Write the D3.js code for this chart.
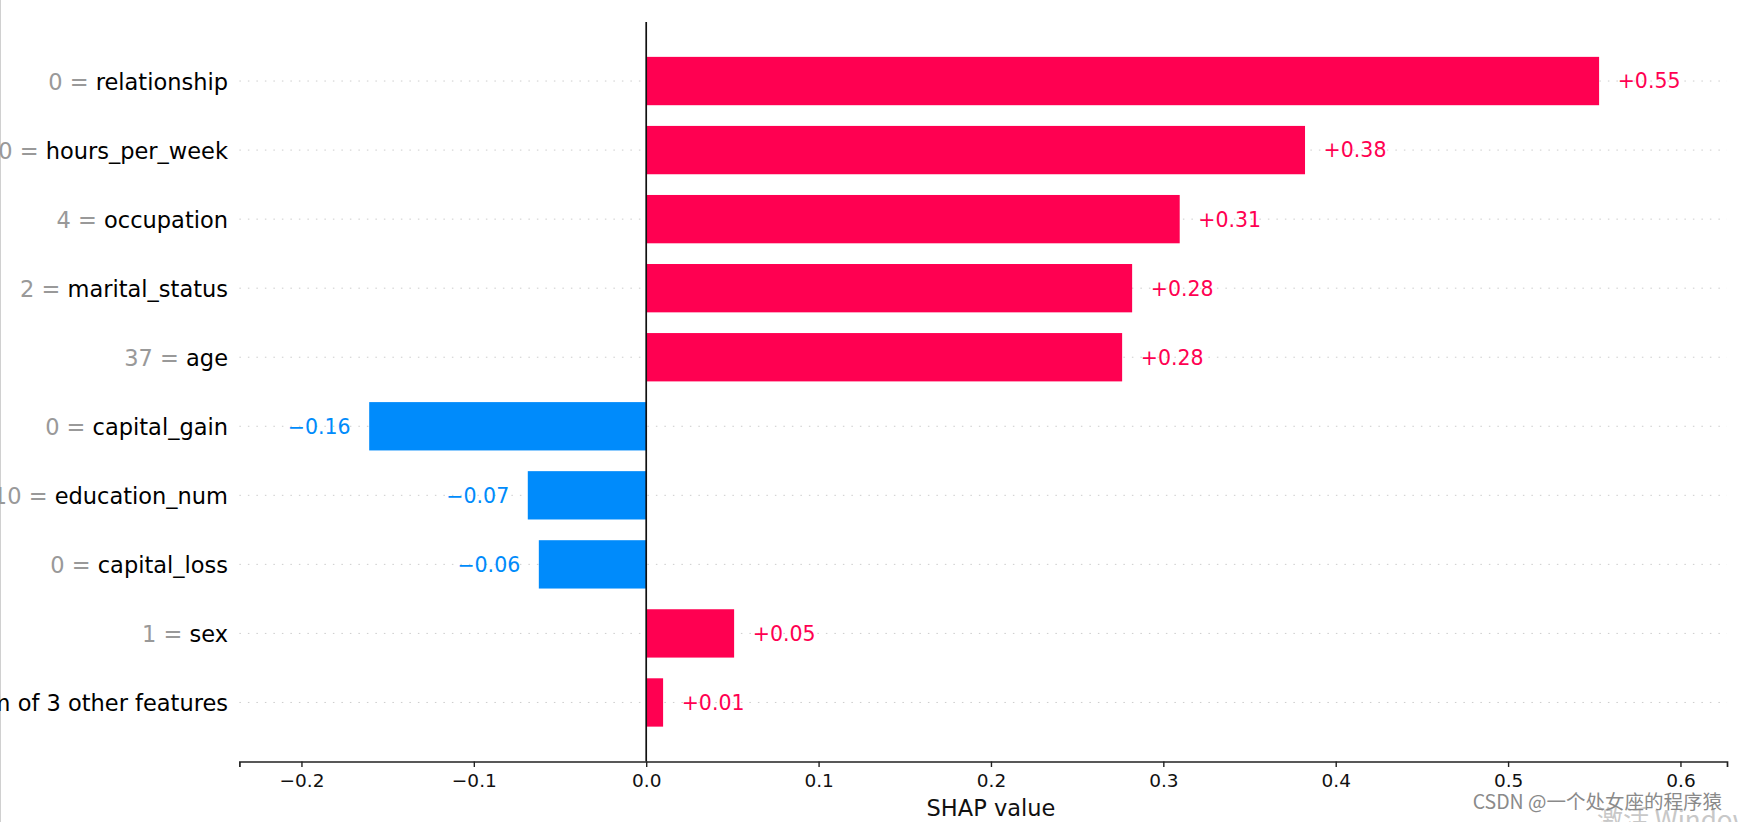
<!DOCTYPE html>
<html><head><meta charset="utf-8">
<script src="https://cdn.jsdelivr.net/npm/d3@7"></script>
<style>html,body{margin:0;padding:0;background:#fff;overflow:hidden}svg{display:block}</style>
</head><body>
<svg id="chart" width="1738" height="822"></svg>
<script>
const featureNames = ["relationship","hours_per_week","occupation","marital_status","age","capital_gain","education_num","capital_loss","sex","Sum of 3 other features"];
const featureValues = ["0","40","4","2","37","0","10","0","1",""];
const shapValues = [0.5528, 0.3822, 0.3095, 0.2819, 0.2761, -0.1607, -0.0687, -0.0623, 0.0510, 0.0098];
const xTicks = [-0.2, -0.1, 0.0, 0.1, 0.2, 0.3, 0.4, 0.5, 0.6];
const xLabel = "SHAP value";

(function () {
const RED = "#ff0051", BLUE = "#008bfb";
const FONT = "'DejaVu Sans', sans-serif";
const CJK = "'Noto Sans CJK SC', 'Noto Sans', sans-serif";
const svg = d3.select("#chart");
const W = 1738, H = 822;

const pLeft = 239.4, pRight = 1727, pTop = 22, pBottom = 761.5;
const x = d3.scaleLinear().domain([-0.236, 0.627]).range([pLeft, pRight]);
const y = d3.scaleLinear().domain([-0.855, featureNames.length - 1 + 0.855]).range([pTop, pBottom]);
const barH = y(0.35) - y(-0.35);
const idx = d3.range(featureNames.length);

// left border line of the screenshot
svg.append("line").attr("x1", 0.5).attr("x2", 0.5).attr("y1", 0).attr("y2", H)
  .attr("stroke", "#d0d0d0").attr("stroke-width", 1);

// dotted grid lines
svg.append("g").selectAll("line").data(idx).join("line")
  .attr("x1", pLeft).attr("x2", pRight)
  .attr("y1", i => y(i)).attr("y2", i => y(i))
  .attr("stroke", "#cccccc").attr("stroke-width", 1)
  .attr("stroke-dasharray", "1.5,7");

// bars
svg.append("g").selectAll("rect").data(idx).join("rect")
  .attr("x", i => Math.min(x(0), x(shapValues[i])))
  .attr("width", i => Math.abs(x(shapValues[i]) - x(0)))
  .attr("y", i => y(i) - barH / 2)
  .attr("height", barH)
  .attr("fill", i => shapValues[i] >= 0 ? RED : BLUE);

// value labels
const fmt = d3.format("+.2f");
const off = (x.domain()[1] - x.domain()[0]) / 80;
svg.append("g").selectAll("text").data(idx).join("text")
  .attr("x", i => shapValues[i] >= 0 ? x(shapValues[i] + off) : x(shapValues[i] - off))
  .attr("y", i => y(i))
  .attr("dy", "0.36em")
  .attr("text-anchor", i => shapValues[i] >= 0 ? "start" : "end")
  .attr("fill", i => shapValues[i] >= 0 ? RED : BLUE)
  .style("font-family", FONT).style("font-size", "20.5px")
  .text(i => fmt(shapValues[i]));

// zero line
svg.append("line").attr("x1", x(0)).attr("x2", x(0)).attr("y1", pTop).attr("y2", pBottom)
  .attr("stroke", "#111").attr("stroke-width", 1.7);

// y labels
const yl = svg.append("g").selectAll("text").data(idx).join("text")
  .attr("x", 228).attr("y", i => y(i)).attr("dy", "0.38em")
  .attr("text-anchor", "end")
  .style("font-family", FONT).style("font-size", "22.5px");
yl.append("tspan").attr("fill", "#999999").text(i => featureValues[i] ? featureValues[i] + " = " : "");
yl.append("tspan").attr("fill", "#000").text(i => featureNames[i]);

// x axis
const xAxis = d3.axisBottom(x).tickValues(xTicks).tickFormat(d3.format(".1f")).tickSizeOuter(0).tickSize(5.5).tickPadding(7);
const gx = svg.append("g").attr("transform", `translate(0,${pBottom})`).call(xAxis);
gx.select(".domain").attr("stroke", "#222").attr("stroke-width", 1.7);
gx.selectAll(".tick line").attr("stroke", "#222").attr("stroke-width", 1.4);
gx.selectAll(".tick text").attr("fill", "#111").style("font-family", FONT).style("font-size", "18.5px");

svg.append("text").attr("x", x(0.2)).attr("y", 816).attr("text-anchor", "middle")
  .style("font-family", FONT).style("font-size", "22.5px").attr("fill", "#111").text(xLabel);

// watermarks
svg.append("text").attr("x", 1597).attr("y", 829).attr("text-anchor", "start")
  .style("font-family", CJK).style("font-size", "26px")
  .attr("fill", "#c8c8c8").text("激活 Windows");
svg.append("text").attr("x", 1722).attr("y", 809).attr("text-anchor", "end")
  .style("font-family", CJK).style("font-size", "19.5px")
  .attr("fill", "#8a8a8a").text("CSDN @一个处女座的程序猿");
})();
</script>
</body></html>
